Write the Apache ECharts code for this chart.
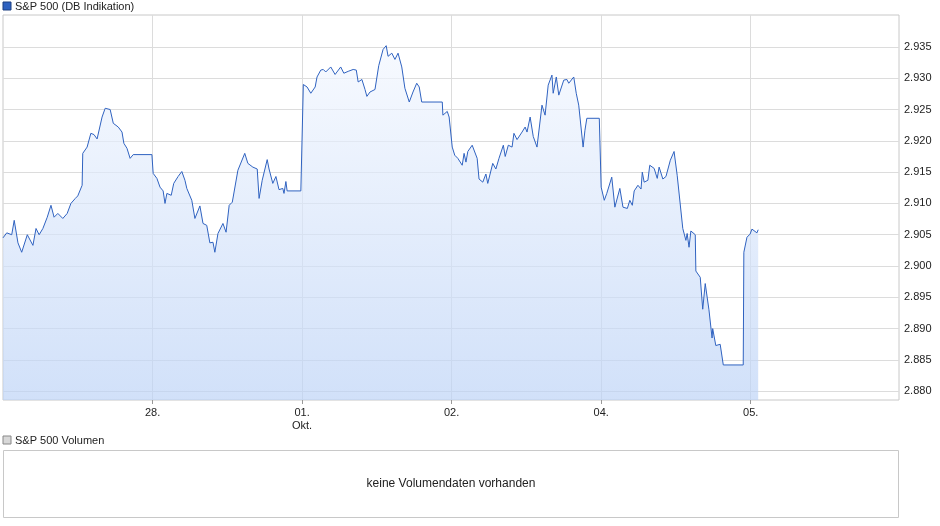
<!DOCTYPE html>
<html><head><meta charset="utf-8">
<script src="https://cdn.jsdelivr.net/npm/echarts@6/dist/echarts.min.js"></script>
<style>html,body{margin:0;padding:0;background:#fff}#c{width:940px;height:526px}</style>
</head><body><div id="c"></div>
<script>
// hours since 27. Sep 00:00 (chart time)
const hours = [0.0,0.6,1.4,1.8,2.4,3.0,3.9,4.8,5.3,5.8,6.4,7.1,7.7,8.2,8.8,9.6,10.3,10.9,11.6,12.0,12.7,12.8,13.5,14.1,14.6,15.1,15.9,16.4,17.2,17.7,18.5,19.1,19.4,19.9,20.4,20.9,23.9,24.1,24.7,25.2,25.7,26.0,26.3,27.0,27.4,28.1,28.7,29.2,29.5,30.3,30.8,31.6,32.1,32.7,33.2,33.7,34.0,34.5,35.3,35.8,36.3,36.8,37.1,37.7,38.8,39.3,40.1,40.8,41.1,41.6,42.4,42.7,43.3,43.8,44.3,44.9,45.1,45.4,45.6,47.8,48.2,48.8,49.4,50.1,50.4,51.0,51.4,51.8,52.6,53.3,54.2,54.7,55.4,56.2,56.7,57.0,57.6,58.1,58.4,58.9,59.7,60.0,60.3,61.0,61.5,61.8,62.4,62.9,63.4,64.0,64.5,64.8,65.2,65.8,66.4,66.8,67.2,70.5,70.6,71.3,71.6,72.1,72.5,73.0,73.7,74.0,74.3,74.6,75.3,75.6,76.1,76.4,77.0,77.5,77.8,78.6,79.1,79.6,80.3,80.6,81.1,81.7,82.0,82.5,83.3,83.8,84.1,84.6,85.1,85.7,86.5,87.0,87.5,88.1,88.3,88.8,89.2,90.0,90.5,90.8,91.6,92.0,92.4,93.1,93.4,93.7,95.7,96.0,96.5,96.9,97.7,98.2,99.0,99.5,100.2,100.6,101.0,101.3,101.9,102.4,102.6,102.9,103.5,103.8,104.5,105.0,105.3,105.9,106.4,106.7,107.1,107.7,108.2,108.5,109.1,109.6,109.8,110.1,110.4,111.1,111.2,111.4,111.9,112.3,112.5,112.7,113.3,113.8,113.9,114.4,115.1,115.6,118.8,118.9,119.4,119.9,120.2,120.5,121.0,121.2];
const prices = [2.9045,2.9053,2.905,2.9073,2.9037,2.9022,2.905,2.9033,2.906,2.905,2.906,2.9078,2.9097,2.9078,2.9084,2.9076,2.9084,2.910,2.9108,2.9112,2.9129,2.918,2.919,2.9212,2.921,2.9203,2.9238,2.9252,2.925,2.9228,2.9222,2.9214,2.9196,2.9188,2.9172,2.9178,2.9178,2.9148,2.914,2.9126,2.912,2.910,2.9116,2.9113,2.9132,2.9143,2.9151,2.9137,2.9124,2.9105,2.9076,2.9096,2.9068,2.9065,2.9037,2.9038,2.9022,2.9052,2.9068,2.9054,2.9097,2.9102,2.9105,2.9153,2.918,2.9164,2.9158,2.9155,2.9108,2.9137,2.917,2.9155,2.9132,2.9143,2.9122,2.9124,2.9116,2.9135,2.912,2.912,2.929,2.9286,2.9276,2.9286,2.9302,2.9313,2.9314,2.931,2.9318,2.9306,2.9318,2.9308,2.9311,2.9314,2.9313,2.9294,2.9298,2.9282,2.9271,2.9278,2.9282,2.928,2.932,2.9346,2.9352,2.9335,2.934,2.933,2.934,2.9318,2.9284,2.9284,2.9262,2.9278,2.9292,2.9286,2.9262,2.9262,2.9241,2.9247,2.9238,2.919,2.9177,2.9172,2.9161,2.918,2.9166,2.9183,2.9193,2.919,2.9172,2.9139,2.9134,2.9147,2.9132,2.9164,2.9155,2.9172,2.9193,2.9175,2.9193,2.919,2.9212,2.9202,2.9214,2.9222,2.9214,2.9238,2.9207,2.919,2.9257,2.9241,2.9289,2.9305,2.9276,2.9302,2.9273,2.9297,2.9298,2.9292,2.9302,2.9276,2.9257,2.919,2.9217,2.9236,2.9236,2.9126,2.9105,2.9116,2.9142,2.9094,2.9124,2.9094,2.9092,2.9105,2.9097,2.912,2.9129,2.9123,2.915,2.9134,2.9137,2.9161,2.9156,2.914,2.9158,2.9139,2.9143,2.9142,2.9169,2.9183,2.9145,2.9142,2.906,2.9041,2.9052,2.903,2.9056,2.905,2.8992,2.8995,2.8982,2.8931,2.8928,2.8972,2.893,2.8885,2.890,2.8873,2.8875,2.8842,2.8842,2.9022,2.9046,2.9051,2.9059,2.9056,2.9053,2.9058];
const yTicks = [2.880,2.885,2.890,2.895,2.900,2.905,2.910,2.915,2.920,2.925,2.930,2.935];
const xTickHours = [24,48,72,96,120];
const xTickLabels = ['28.','01.\nOkt.','02.','04.','05.'];
const seriesName = 'S&P 500 (DB Indikation)';
const volumeTitle = 'S&P 500 Volumen';
const volumeNote = 'keine Volumendaten vorhanden';

const font = 'Liberation Sans, Arial, sans-serif';
const chart = echarts.init(document.getElementById('c'));
chart.setOption({
  animation:false,
  textStyle:{fontFamily:font},
  grid:{left:3,right:41,top:15,bottom:126,show:true,borderColor:'#c8c8c8',borderWidth:1},
  xAxis:{type:'value',min:0,max:143.8,
    axisLine:{show:false},
    axisTick:{show:true,length:4,lineStyle:{color:'#999'},customValues:xTickHours},
    splitLine:{show:true,lineStyle:{color:'#dcdcdc'}},
    axisLabel:{customValues:xTickHours,formatter:v=>xTickLabels[xTickHours.indexOf(Math.round(v))]||'',
      color:'#222',fontSize:11,margin:6,lineHeight:13}},
  yAxis:{type:'value',position:'right',min:2.8786,max:2.9401,
    axisLine:{show:false},axisTick:{show:false,customValues:yTicks},
    splitLine:{show:true,lineStyle:{color:'#dcdcdc'}},
    axisLabel:{customValues:yTicks,formatter:v=>v.toFixed(3),color:'#222',fontSize:11,margin:5,align:'left'}},
  series:[{type:'line',name:seriesName,data:hours.map((h,i)=>[h,prices[i]]),
    showSymbol:false,lineStyle:{color:'#2f62c0',width:1},
    areaStyle:{origin:'start',color:new echarts.graphic.LinearGradient(0,0,0,1,[{offset:0,color:'#f3f7fe'},{offset:1,color:'#bdd3f6'}])}}],
  graphic:[
    {type:'rect',shape:{x:3,y:2,width:8,height:8},style:{fill:'#2f62c0',stroke:'#1d3f80'}},
    {type:'text',x:15,y:1,style:{text:seriesName,font:'11px '+font,fill:'#222'}},
    {type:'rect',shape:{x:3,y:436,width:8,height:8},style:{fill:'#d8d8d8',stroke:'#888'}},
    {type:'text',x:15,y:435,style:{text:volumeTitle,font:'11px '+font,fill:'#222'}},
    {type:'rect',shape:{x:3.5,y:450.5,width:895,height:67},style:{fill:'#fff',stroke:'#c8c8c8'}},
    {type:'text',x:451,y:484,style:{text:volumeNote,font:'12px '+font,fill:'#222',align:'center',verticalAlign:'middle'}}
  ]
});
</script></body></html>
